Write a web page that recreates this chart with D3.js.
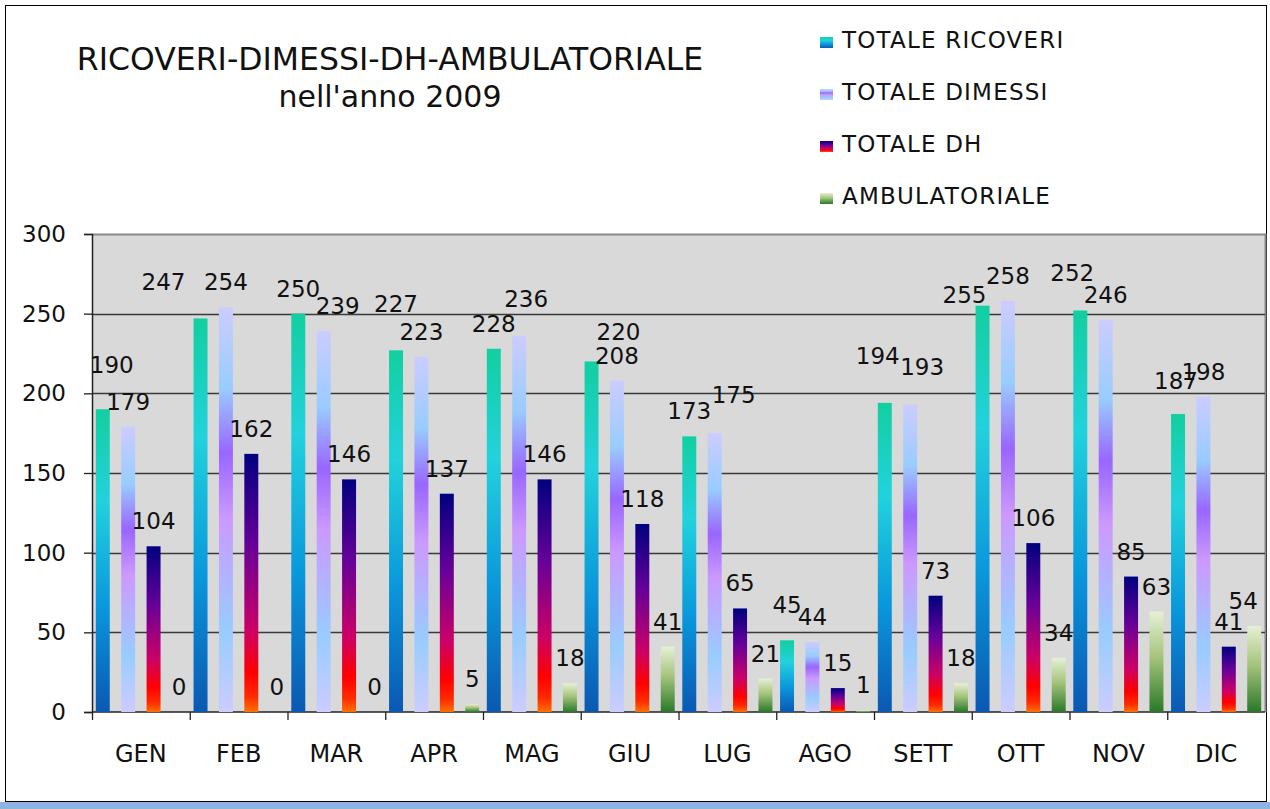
<!DOCTYPE html>
<html>
<head>
<meta charset="utf-8">
<script src="https://cdn.jsdelivr.net/npm/d3@7"></script>
<style>
  body { margin: 0; background: #fff; }
  svg { display: block; font-family: "DejaVu Sans", Verdana, sans-serif; }
  .val-lbl { font-size: 23px; fill: #111; }
  .month-lbl { font-size: 24px; fill: #111; }
  .leg-lbl { font-size: 23px; fill: #111; letter-spacing: 1.2px; }
</style>
</head>
<body>
<svg id="chart" width="1270" height="809"></svg>
<script>
// data
var months = ['GEN', 'FEB', 'MAR', 'APR', 'MAG', 'GIU', 'LUG', 'AGO', 'SETT', 'OTT', 'NOV', 'DIC'];
var seriesNames = ['TOTALE RICOVERI', 'TOTALE DIMESSI', 'TOTALE DH', 'AMBULATORIALE'];
var ricoveri = [190, 247, 250, 227, 228, 220, 173, 45, 194, 255, 252, 187];
var dimessi = [179, 254, 239, 223, 236, 208, 175, 44, 193, 258, 246, 198];
var dh = [104, 162, 146, 137, 146, 118, 65, 15, 73, 106, 85, 41];
var ambulatoriale = [0, 0, 0, 5, 18, 41, 21, 1, 18, 34, 63, 54];
var yTicks = [0, 50, 100, 150, 200, 250, 300];

var allSeries = [ricoveri, dimessi, dh, ambulatoriale];

var svg = d3.select('#chart');
var plot = {l: 92, r: 1265, t: 234, b: 712};

// gradients, one per series (each bar gets the full ramp)
var gradStops = [
    [[0, '#12cfa0'], [0.3, '#22d2dc'], [0.65, '#0a98dc'], [1, '#0a58b2']],
    [[0, '#ccccff'], [0.2, '#99ccff'], [0.36, '#9966ff'], [0.52, '#cc99ff'], [0.8, '#99ccff'], [1, '#ccccff']],
    [[0, '#000080'], [0.35, '#660099'], [0.68, '#cc0066'], [0.85, '#ff0000'], [0.94, '#ff2a00'], [1, '#ff7000']],
    [[0, '#e6f0d6'], [0.45, '#a6c47c'], [1, '#2a782a']]
];
var defs = svg.append('defs');
gradStops.forEach(function (stops, i) {
    var g = defs.append('linearGradient')
        .attr('id', 'grad' + i)
        .attr('x1', 0).attr('y1', 0).attr('x2', 0).attr('y2', 1);
    stops.forEach(function (s) {
        g.append('stop').attr('offset', s[0]).attr('stop-color', s[1]);
    });
});

// chart frame
svg.append('rect')
    .attr('x', 5.5).attr('y', 5.5)
    .attr('width', 1261).attr('height', 796)
    .style('fill', '#fff')
    .style('stroke', '#000')
    .style('stroke-width', 1);
svg.append('rect')
    .attr('x', 0).attr('y', 802)
    .attr('width', 1270).attr('height', 7)
    .style('fill', '#8db4e2');

// scales
var x0 = d3.scaleBand().domain(months).range([plot.l, plot.r]).padding(0);
var x1 = d3.scaleBand().domain(d3.range(4)).range([0, x0.bandwidth()])
    .paddingInner(0.45).paddingOuter(0.15);
var y = d3.scaleLinear().domain([0, 300]).range([plot.b, plot.t]);

// plot area
svg.append('rect')
    .attr('x', plot.l).attr('y', plot.t)
    .attr('width', plot.r - plot.l).attr('height', plot.b - plot.t)
    .style('fill', '#d9d9d9');
svg.append('path')
    .attr('d', 'M' + plot.l + ',' + (plot.t + 0.5) + 'H' + (plot.r + 0.5) + 'V' + plot.b)
    .style('fill', 'none')
    .style('stroke', '#888')
    .style('stroke-width', 2);

// gridlines
svg.append('g')
    .selectAll('line')
    .data(yTicks.slice(1, -1))
    .enter()
    .append('line')
    .attr('x1', plot.l).attr('x2', plot.r)
    .attr('y1', function (d) { return Math.round(y(d)) + 0.5; })
    .attr('y2', function (d) { return Math.round(y(d)) + 0.5; })
    .style('stroke', '#3a3a3a')
    .style('stroke-width', 1.3);

// y axis
var yAxis = svg.append('g')
    .attr('transform', 'translate(' + plot.l + ',0)')
    .call(d3.axisLeft(y).tickValues(yTicks).tickSize(8).tickPadding(18));
yAxis.select('.domain').style('stroke', '#222').style('stroke-width', 1.5);
yAxis.selectAll('.tick line').style('stroke', '#222').style('stroke-width', 1.3);
yAxis.selectAll('.tick text')
    .style('font-family', 'DejaVu Sans')
    .style('font-size', '23px')
    .style('fill', '#111');

// x axis: ticks between months
var xAxisG = svg.append('g').attr('transform', 'translate(0,' + plot.b + ')');
xAxisG.append('line')
    .attr('x1', plot.l).attr('x2', plot.r)
    .style('stroke', '#222').style('stroke-width', 1.5);
xAxisG.selectAll('.xtick')
    .data(months)
    .enter()
    .append('line')
    .attr('x1', function (d) { return x0(d) + 0.5; })
    .attr('x2', function (d) { return x0(d) + 0.5; })
    .attr('y1', 0).attr('y2', 8)
    .style('stroke', '#222').style('stroke-width', 1.3);
xAxisG.selectAll('.month-lbl')
    .data(months)
    .enter()
    .append('text')
    .attr('class', 'month-lbl')
    .attr('x', function (d) { return x0(d) + x0.bandwidth() / 2; })
    .attr('y', 50)
    .attr('text-anchor', 'middle')
    .text(function (d) { return d; });

// bars
var groups = svg.append('g')
    .selectAll('.month')
    .data(months)
    .enter()
    .append('g')
    .attr('class', 'month')
    .attr('transform', function (d) { return 'translate(' + x0(d) + ',0)'; });

groups.selectAll('rect')
    .data(function (d, mi) {
        return allSeries.map(function (s, si) { return {si: si, mi: mi, v: s[mi]}; });
    })
    .enter()
    .append('rect')
    .attr('x', function (d) { return x1(d.si); })
    .attr('y', function (d) { return y(d.v); })
    .attr('width', x1.bandwidth())
    .attr('height', function (d) { return y(0) - y(d.v); })
    .style('fill', function (d) { return 'url(#grad' + d.si + ')'; });

// value labels (some were dragged by hand in the original)
var nudges = [
    [0, 0, 9, -19], [1, 0, -37, -11], [2, 1, 14, 0], [3, 0, 0, -21], [4, 1, 7, -12],
    [5, 0, 27, -4], [6, 1, 19, -13], [7, 0, 0, -10], [8, 0, -7, -22], [8, 1, 12, -12],
    [9, 0, -18, 14], [10, 0, -8, -12], [11, 0, -2, -8], [11, 3, -11, 0]
];
function nudge(mi, si) {
    var n = nudges.find(function (a) { return a[0] === mi && a[1] === si; });
    return n ? [n[2], n[3]] : [0, 0];
}

groups.selectAll('.val-lbl')
    .data(function (d, mi) {
        return allSeries.map(function (s, si) { return {si: si, mi: mi, v: s[mi]}; });
    })
    .enter()
    .append('text')
    .attr('class', 'val-lbl')
    .attr('x', function (d) { return x1(d.si) + x1.bandwidth() / 2 + nudge(d.mi, d.si)[0]; })
    .attr('y', function (d) { return y(d.v) - 17 + nudge(d.mi, d.si)[1]; })
    .attr('text-anchor', 'middle')
    .text(function (d) { return d.v; });

// title
svg.append('text')
    .attr('x', 390).attr('y', 70)
    .attr('text-anchor', 'middle')
    .style('font-size', '31.5px')
    .style('fill', '#111')
    .text('RICOVERI-DIMESSI-DH-AMBULATORIALE');
svg.append('text')
    .attr('x', 390).attr('y', 107)
    .attr('text-anchor', 'middle')
    .style('font-size', '30px')
    .style('fill', '#111')
    .text("nell'anno 2009");

// legend
var legend = svg.append('g')
    .selectAll('.leg')
    .data(seriesNames)
    .enter()
    .append('g')
    .attr('class', 'leg')
    .attr('transform', function (d, i) { return 'translate(' + [820, 37 + i * 52] + ')'; });
legend.append('rect')
    .attr('width', 13).attr('height', 11)
    .style('fill', function (d, i) { return 'url(#grad' + i + ')'; });
legend.append('text')
    .attr('class', 'leg-lbl')
    .attr('x', 22).attr('y', 11)
    .text(function (d) { return d; });
</script>
</body>
</html>
